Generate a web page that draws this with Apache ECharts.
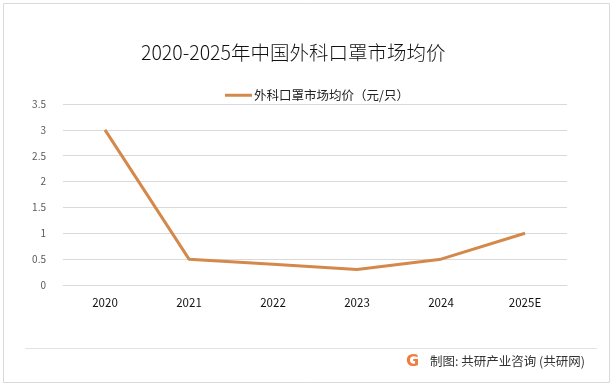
<!DOCTYPE html>
<html>
<head>
<meta charset="utf-8">
<script src="https://cdn.jsdelivr.net/npm/echarts@6/dist/echarts.min.js"></script>
<style>
html,body{margin:0;padding:0;background:#fff;}
#c{width:616px;height:388px;}
</style>
</head>
<body>
<div id="c"></div>
<script>
var categories = ['2020', '2021', '2022', '2023', '2024', '2025E'];
var priceValues = [3.0, 0.5, 0.4, 0.3, 0.5, 1.0];
var yTicks = [0, 0.5, 1, 1.5, 2, 2.5, 3, 3.5];
var seriesName = '外科口罩市场均价（元/只）';
var titleText = '2020-2025年中国外科口罩市场均价';
var footerText = '制图: 共研产业咨询 (共研网)';

var FONT = '"Noto Sans CJK SC", "Noto Sans", sans-serif';
var chart = echarts.init(document.getElementById('c'), null, {renderer: 'canvas'});
chart.setOption({
  backgroundColor: '#ffffff',
  animation: false,
  textStyle: {fontFamily: FONT},
  title: {
    text: titleText,
    left: 136, top: 38,
    textStyle: {fontSize: 19.5, fontWeight: 300, color: '#111', fontFamily: FONT}
  },
  legend: {
    data: [seriesName],
    left: 220, top: 84,
    icon: 'rect',
    itemWidth: 27, itemHeight: 3,
    itemGap: 10,
    textStyle: {fontSize: 12.5, color: '#222', fontFamily: FONT, padding: [0,0,0,-3]}
  },
  grid: {left: 63, right: 49, top: 104, bottom: 103, containLabel: false},
  xAxis: {
    type: 'category',
    data: categories,
    boundaryGap: true,
    axisLine: {show: true, lineStyle: {color: '#D9D9D9', width: 1}},
    axisTick: {show: false},
    axisLabel: {color: '#111', fontSize: 11.5, margin: 12, fontFamily: FONT}
  },
  yAxis: {
    type: 'value',
    min: yTicks[0], max: yTicks[yTicks.length - 1], interval: 0.5,
    axisLine: {show: false},
    axisTick: {show: false},
    splitLine: {lineStyle: {color: '#D9D9D9', width: 1}},
    axisLabel: {color: '#595959', fontSize: 10, margin: 17, fontFamily: FONT}
  },
  series: [{
    name: seriesName,
    type: 'line',
    data: priceValues,
    symbol: 'none',
    lineStyle: {color: '#D4894A', width: 3},
    itemStyle: {color: '#D4894A'}
  }],
  graphic: [
    {type: 'rect', shape: {x: 3.5, y: 3.5, width: 606, height: 379}, style: {fill: 'none', stroke: '#D9D9D9', lineWidth: 1}, silent: true, z: 0},
    {type: 'line', shape: {x1: 25, y1: 348.5, x2: 597, y2: 348.5}, style: {stroke: '#E3E3E3', lineWidth: 1}, silent: true},
    {type: 'text', left: 406, top: 354, style: {text: 'G', fontSize: 16, fontWeight: 'bold', fontFamily: '"DejaVu Sans", sans-serif', fill: '#F27B3E'}},
    {type: 'text', left: 430, top: 355, style: {text: footerText, fontSize: 12.5, fontFamily: FONT, fill: '#333'}}
  ]
});
</script>
</body>
</html>
